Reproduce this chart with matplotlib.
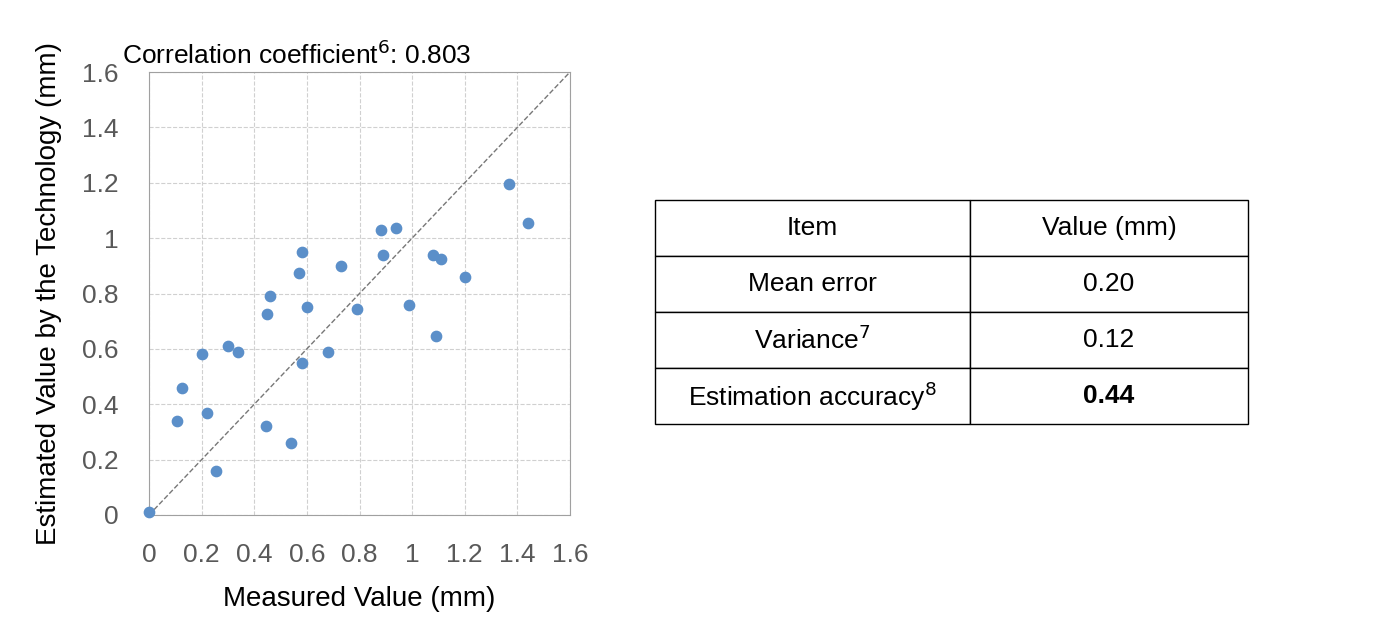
import matplotlib.pyplot as plt

# data
measured = [0.0, 0.106, 0.125, 0.20, 0.22, 0.255, 0.30, 0.34, 0.445, 0.45, 0.46, 0.54,
            0.57, 0.58, 0.58, 0.60, 0.68, 0.73, 0.79, 0.88, 0.89, 0.94, 0.99, 1.08,
            1.09, 1.11, 1.20, 1.37, 1.44]
estimated = [0.01, 0.34, 0.46, 0.58, 0.37, 0.16, 0.61, 0.59, 0.32, 0.725, 0.79, 0.26,
             0.875, 0.95, 0.55, 0.75, 0.59, 0.90, 0.745, 1.03, 0.94, 1.035, 0.76, 0.94,
             0.645, 0.925, 0.86, 1.195, 1.055]
ticks = [0, 0.2, 0.4, 0.6, 0.8, 1, 1.2, 1.4, 1.6]
tick_labels = ["0", "0.2", "0.4", "0.6", "0.8", "1", "1.2", "1.4", "1.6"]
items = ["Item", "Mean error", "Variance$^{7}$", "Estimation accuracy$^{8}$"]
values = ["Value (mm)", "0.20", "0.12", "0.44"]

plt.rcParams["font.family"] = "Liberation Sans"
fig = plt.figure(figsize=(13.87, 6.31), dpi=100)
ax = fig.add_axes([149 / 1387, 116 / 631, 421 / 1387, 443 / 631])
ax.scatter(measured, estimated, s=55, color="#5B8FC9", zorder=3, clip_on=False)
ax.plot([0, 1.6], [0, 1.6], ls="--", color="#777777", lw=1, zorder=2)
ax.set_xlim(0, 1.6)
ax.set_ylim(0, 1.6)
ax.set_xticks(ticks, tick_labels)
ax.set_yticks(ticks, tick_labels)
ax.tick_params(labelsize=19, colors="#595959", length=0)
ax.tick_params(axis="x", pad=20)
ax.tick_params(axis="y", pad=22)
ax.grid(True, ls="--", color="#d0d0d0", lw=0.8)
for s in ax.spines.values():
    s.set_color("#a0a0a0")
ax.set_xlabel("Measured Value (mm)", fontsize=20, labelpad=14)
ax.set_ylabel("Estimated Value by the Technology (mm)", fontsize=20, labelpad=14)
ax.set_title("Correlation coefficient$^{6}$: 0.803", fontsize=19, pad=6, x=0.35)

tax = fig.add_axes([655 / 1387, 207 / 631, 593 / 1387, 224 / 631])
tax.axis("off")
tbl = tax.table(cellText=[[i, v] for i, v in zip(items, values)],
                colWidths=[315 / 593, 278 / 593], cellLoc="center",
                bbox=[0, 0, 1, 1])
tbl.auto_set_font_size(False)
for (r, c), cell in tbl.get_celld().items():
    cell.set_fontsize(19)
    cell.set_linewidth(1)
    if r == 3 and c == 1:
        cell.get_text().set_fontweight("bold")

fig.savefig("out.png", dpi=100)
